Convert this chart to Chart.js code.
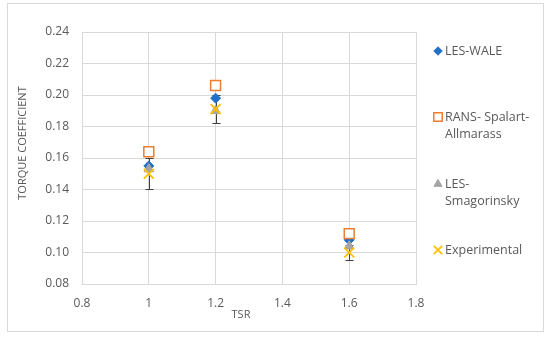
<!DOCTYPE html>
<html><head><meta charset="utf-8">
<script src="https://cdn.jsdelivr.net/npm/chart.js@4/dist/chart.umd.min.js"></script>
<style>html,body{margin:0;padding:0;background:#fff}#wrap{width:550px;height:338px}</style>
</head><body><div id="wrap"><canvas id="c" width="550" height="338"></canvas></div>
<script>
const tsr = [1.0, 1.2, 1.6];
const lesWale = [0.155, 0.198, 0.108];
const ransSA = [0.164, 0.206, 0.112];
const lesSmag = [0.153, 0.190, 0.104];
const experimental = [0.150, 0.191, 0.100];
const expErrLow = [0.140, 0.182, 0.095];
const expErrHigh = [0.160, 0.200, 0.105];
const seriesNames = [["LES-WALE"], ["RANS- Spalart-", "Allmarass"], ["LES-", "Smagorinsky"], ["Experimental"]];
const xTickLabels = ["0.8", "1", "1.2", "1.4", "1.6", "1.8"];
const yTickLabels = ["0.08", "0.10", "0.12", "0.14", "0.16", "0.18", "0.20", "0.22", "0.24"];
const xTitle = "TSR";
const yTitle = "TORQUE COEFFICIENT";

const FONT = "'Open Sans', 'Liberation Sans', sans-serif";
const TXT = '#595959';
const GRID = '#d9d9d9';

function pts(ys){ return tsr.map((x,i)=>({x:x, y:ys[i]})); }

const styles = [
  {pointStyle:'rectRot', radius:5, backgroundColor:'#2270c8', borderColor:'#2270c8', borderWidth:1},
  {pointStyle:'rect', radius:7, backgroundColor:'#ffffff', borderColor:'#ed7d31', borderWidth:1.5},
  {pointStyle:'triangle', radius:5.5, backgroundColor:'#a5a5a5', borderColor:'#a5a5a5', borderWidth:1},
  {pointStyle:'crossRot', radius:7, backgroundColor:'#ffc000', borderColor:'#ffc000', borderWidth:1.75}
];
const seriesData = [lesWale, ransSA, lesSmag, experimental];

const datasets = seriesData.map((d,i)=>({
  label: seriesNames[i].join(' '),
  data: pts(d),
  showLine:false,
  pointStyle: styles[i].pointStyle,
  pointRadius: styles[i].radius,
  pointHoverRadius: styles[i].radius,
  pointBackgroundColor: styles[i].backgroundColor,
  pointBorderColor: styles[i].borderColor,
  pointBorderWidth: styles[i].borderWidth,
  order: 4-i
}));

const decor = {
  id:'decor',
  beforeDatasetsDraw(chart){
    const ctx = chart.ctx, xs = chart.scales.x, ys = chart.scales.y;
    ctx.save();
    ctx.strokeStyle = '#404040';
    ctx.lineWidth = 1;
    tsr.forEach((x,i)=>{
      const px = Math.round(xs.getPixelForValue(x)) + 0.5;
      const y1 = Math.round(ys.getPixelForValue(expErrLow[i])) + 0.5;
      const y2 = Math.round(ys.getPixelForValue(expErrHigh[i])) + 0.5;
      ctx.beginPath();
      ctx.moveTo(px, y1); ctx.lineTo(px, y2);
      ctx.moveTo(px-4, y1); ctx.lineTo(px+4, y1);
      ctx.moveTo(px-4, y2); ctx.lineTo(px+4, y2);
      ctx.stroke();
    });
    ctx.restore();
  },
  afterDraw(chart){
    const ctx = chart.ctx;
    ctx.save();
    // outer border
    ctx.strokeStyle = '#d9d9d9';
    ctx.lineWidth = 1;
    ctx.strokeRect(7.5, 3.5, 536, 328);
    // axis titles
    ctx.fillStyle = TXT;
    ctx.font = "11px " + FONT;
    ctx.textAlign = 'center';
    ctx.textBaseline = 'middle';
    ctx.fillText(xTitle, 241, 315);
    ctx.save();
    ctx.translate(23, 143);
    ctx.rotate(-Math.PI/2);
    ctx.fillText(yTitle, 0, 0);
    ctx.restore();
    // legend
    const legY = [51, 117, 184, 250];
    ctx.font = "12.5px " + FONT;
    ctx.textAlign = 'left';
    seriesNames.forEach((lines,i)=>{
      const st = styles[i];
      ctx.save();
      ctx.fillStyle = st.backgroundColor;
      ctx.strokeStyle = st.borderColor;
      ctx.lineWidth = st.borderWidth;
      Chart.helpers.drawPoint(ctx, {pointStyle: st.pointStyle, radius: st.radius*0.85, rotation:0, borderWidth: st.borderWidth}, 438, legY[i]);
      ctx.restore();
      ctx.fillStyle = TXT;
      lines.forEach((t,k)=> ctx.fillText(t, 445, legY[i] + k*17));
    });
    ctx.restore();
  }
};

new Chart(document.getElementById('c'), {
  type:'scatter',
  data:{datasets},
  options:{
    responsive:false,
    animation:false,
    events:[],
    layout:{padding:{top:32, right:134, bottom:0, left:0}},
    plugins:{legend:{display:false}, tooltip:{enabled:false}},
    scales:{
      x:{
        type:'linear', min:0.8, max:1.8,
        ticks:{stepSize:0.2, padding:12, color:TXT, font:{family:FONT, size:12},
          callback:(v,i)=> xTickLabels[i]},
        grid:{color:GRID, drawTicks:false},
        border:{color:GRID},
        afterFit:(s)=>{ s.height = 54; }
      },
      y:{
        type:'linear', min:0.08, max:0.24,
        ticks:{stepSize:0.02, padding:13, color:TXT, font:{family:FONT, size:12},
          callback:(v,i)=> yTickLabels[i]},
        grid:{color:GRID, drawTicks:false},
        border:{color:GRID},
        afterFit:(s)=>{ s.width = 82; }
      }
    }
  },
  plugins:[decor]
});
</script></body></html>
